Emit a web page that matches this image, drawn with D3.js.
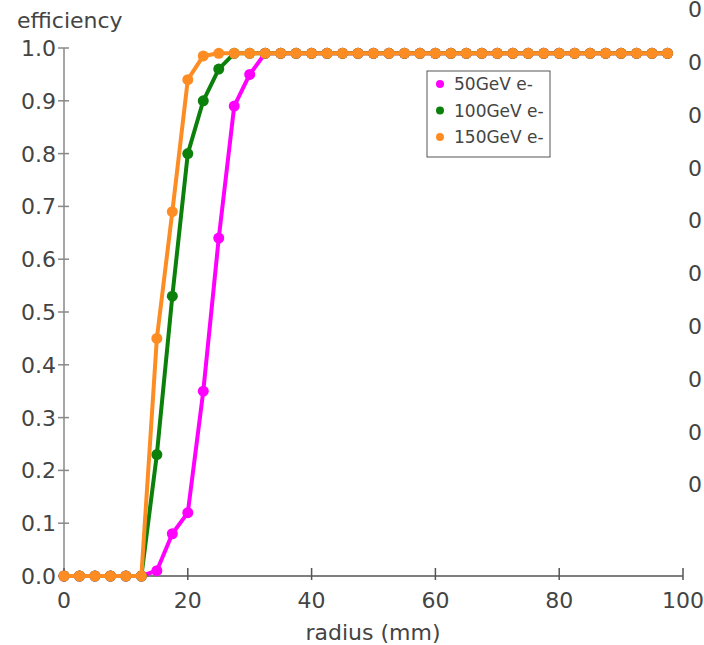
<!DOCTYPE html>
<html>
<head>
<meta charset="utf-8">
<script src="https://cdn.jsdelivr.net/npm/d3@7"></script>
<style>
  body { margin: 0; background: #fff; }
  svg { display: block; font-family: "DejaVu Sans", sans-serif; }
</style>
</head>
<body>
<svg id="chart" width="704" height="645"></svg>
<script>
// radius sample points (mm)
const radius = d3.range(0, 40).map(i => i * 2.5);

const eff50 = [0, 0, 0, 0, 0, 0, 0.01, 0.08, 0.12, 0.35, 0.64, 0.89, 0.95, 0.99,
  0.99, 0.99, 0.99, 0.99, 0.99, 0.99, 0.99, 0.99, 0.99, 0.99, 0.99, 0.99, 0.99,
  0.99, 0.99, 0.99, 0.99, 0.99, 0.99, 0.99, 0.99, 0.99, 0.99, 0.99, 0.99, 0.99];
const eff100 = [0, 0, 0, 0, 0, 0, 0.23, 0.53, 0.80, 0.90, 0.96, 0.99, 0.99, 0.99,
  0.99, 0.99, 0.99, 0.99, 0.99, 0.99, 0.99, 0.99, 0.99, 0.99, 0.99, 0.99, 0.99,
  0.99, 0.99, 0.99, 0.99, 0.99, 0.99, 0.99, 0.99, 0.99, 0.99, 0.99, 0.99, 0.99];
const eff150 = [0, 0, 0, 0, 0, 0, 0.45, 0.69, 0.94, 0.985, 0.99, 0.99, 0.99, 0.99,
  0.99, 0.99, 0.99, 0.99, 0.99, 0.99, 0.99, 0.99, 0.99, 0.99, 0.99, 0.99, 0.99,
  0.99, 0.99, 0.99, 0.99, 0.99, 0.99, 0.99, 0.99, 0.99, 0.99, 0.99, 0.99, 0.99];

const seriesNames = ["50GeV e-", "100GeV e-", "150GeV e-"];
const seriesColors = ["#ff00ff", "#0b800b", "#fd8c23"];
const xTicks = [0, 20, 40, 60, 80, 100];
const yTicks = d3.range(0, 11).map(i => i / 10);
// labels of the neighbouring panel, cut off at the right edge
const sideLabels = ["0", "0", "0", "0", "0", "0", "0", "0", "0", "0"];

const series = [eff50, eff100, eff150].map((vals, i) => ({
  name: seriesNames[i],
  color: seriesColors[i],
  points: vals.map((v, j) => ({ x: radius[j], y: v }))
}));

const svg = d3.select("#chart");
const x = d3.scaleLinear().domain([0, 100]).range([64, 683]);
const y = d3.scaleLinear().domain([0, 1]).range([576, 48]);

const axisColor = "#888";
const labelColor = "#444";

svg.append("g").selectAll("text")
  .data(sideLabels)
  .enter().append("text")
  .attr("x", 688)
  .attr("y", (d, i) => y(1.1 - i * 0.1) + 22)
  .attr("font-size", 22)
  .attr("fill", labelColor)
  .text(d => d);

// y axis
const yAxis = svg.append("g");
yAxis.append("line")
  .attr("x1", x(0)).attr("x2", x(0))
  .attr("y1", y(0) + 6).attr("y2", y(1))
  .attr("stroke", axisColor).attr("stroke-width", 1.5);
yAxis.selectAll("line.tick").data(yTicks).enter().append("line")
  .attr("class", "tick")
  .attr("x1", x(0) - 6).attr("x2", x(0) + 5)
  .attr("y1", d => y(d)).attr("y2", d => y(d))
  .attr("stroke", axisColor).attr("stroke-width", 1.5);
yAxis.selectAll("text").data(yTicks).enter().append("text")
  .attr("x", x(0) - 8)
  .attr("y", d => y(d) + 8)
  .attr("text-anchor", "end")
  .attr("font-size", 22)
  .attr("fill", labelColor)
  .text(d => d3.format(".1f")(d));

// x axis
const xAxis = svg.append("g");
xAxis.append("line")
  .attr("x1", x(0)).attr("x2", x(100))
  .attr("y1", y(0)).attr("y2", y(0))
  .attr("stroke", "#555").attr("stroke-width", 1.5);
xAxis.selectAll("line.tick").data(xTicks).enter().append("line")
  .attr("class", "tick")
  .attr("x1", d => x(d)).attr("x2", d => x(d))
  .attr("y1", y(0) - 8).attr("y2", y(0) + 4)
  .attr("stroke", "#555").attr("stroke-width", 1.5);
xAxis.selectAll("text").data(xTicks).enter().append("text")
  .attr("x", d => x(d))
  .attr("y", y(0) + 32)
  .attr("text-anchor", "middle")
  .attr("font-size", 22)
  .attr("fill", labelColor)
  .text(d => d);

svg.append("text")
  .attr("x", 373).attr("y", 640)
  .attr("text-anchor", "middle")
  .attr("font-size", 22)
  .attr("fill", labelColor)
  .text("radius (mm)");

svg.append("text")
  .attr("x", 17).attr("y", 28)
  .attr("font-size", 22)
  .attr("fill", labelColor)
  .text("efficiency");

// lines and dots
const line = d3.line().x(d => x(d.x)).y(d => y(d.y));
series.forEach(s => {
  const g = svg.append("g");
  g.append("path")
    .datum(s.points)
    .attr("d", line)
    .attr("fill", "none")
    .attr("stroke", s.color)
    .attr("stroke-width", 4)
    .attr("stroke-linejoin", "round");
  g.selectAll("circle").data(s.points).enter().append("circle")
    .attr("cx", d => x(d.x))
    .attr("cy", d => y(d.y))
    .attr("r", 5.5)
    .attr("fill", s.color);
});

// legend
const legend = svg.append("g").attr("transform", "translate(427,71)");
legend.append("rect")
  .attr("width", 123).attr("height", 86)
  .attr("fill", "#fff")
  .attr("stroke", "#555").attr("stroke-width", 1);
series.forEach((s, i) => {
  legend.append("circle")
    .attr("cx", 13).attr("cy", 13 + i * 26.5)
    .attr("r", 4)
    .attr("fill", s.color);
  legend.append("text")
    .attr("x", 27).attr("y", 13 + i * 26.5 + 6)
    .attr("font-size", 17)
    .attr("fill", labelColor)
    .text(s.name);
});
</script>
</body>
</html>
